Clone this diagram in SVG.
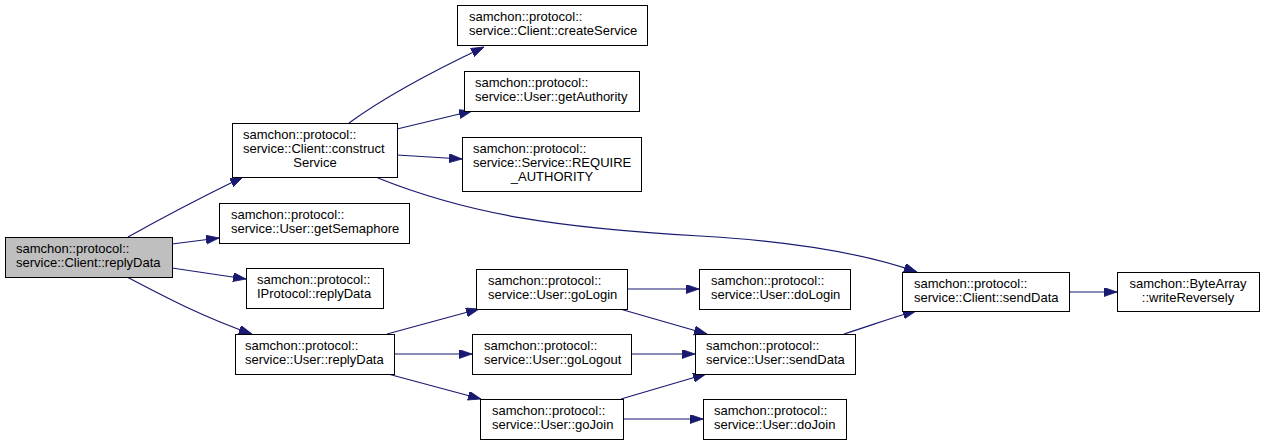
<svg xmlns="http://www.w3.org/2000/svg" width="1264" height="445" viewBox="0 0 1264 445">
<style>
.n rect{fill:#ffffff;stroke:#000000;stroke-width:1}
.n.root rect{fill:#bfbfbf}
.n text{font-family:"Liberation Sans",Arial,sans-serif;font-size:13px;fill:#000000}
.n text.c{text-anchor:middle}
#edges path{fill:none;stroke:#191970;stroke-width:1.2}
</style>
<defs>
<marker id="arr" markerUnits="userSpaceOnUse" markerWidth="14" markerHeight="10" refX="13" refY="4.5" orient="auto">
<path d="M0,0 L13,4.5 L0,9 z" fill="#191970" stroke="#191970" stroke-width="0.8"/>
</marker>
</defs>
<rect width="1264" height="445" fill="#ffffff"/>
<g id="edges">
<path marker-end="url(#arr)" d="M128,237 C160,219 200,198 243,177"/>
<path marker-end="url(#arr)" d="M172,244 L219,238"/>
<path marker-end="url(#arr)" d="M172,268 L246,279"/>
<path marker-end="url(#arr)" d="M127,277 C165,297 205,318 252,334"/>
<path marker-end="url(#arr)" d="M349,123 C375,104 410,82 484,47"/>
<path marker-end="url(#arr)" d="M397,129 L472,111"/>
<path marker-end="url(#arr)" d="M397,155 L462,159"/>
<path marker-end="url(#arr)" d="M378,178 C470,215 560,228 700,236 C790,241 860,252 917,272"/>
<path marker-end="url(#arr)" d="M387,334 L479,309"/>
<path marker-end="url(#arr)" d="M394,354 L472,354"/>
<path marker-end="url(#arr)" d="M388,374 L481,399"/>
<path marker-end="url(#arr)" d="M627,289 L699,289"/>
<path marker-end="url(#arr)" d="M620,309 L707,334"/>
<path marker-end="url(#arr)" d="M631,354 L695,354"/>
<path marker-end="url(#arr)" d="M621,399 L706,374"/>
<path marker-end="url(#arr)" d="M623,419 L703,419"/>
<path marker-end="url(#arr)" d="M844,334 C870,326 890,318 916,311"/>
<path marker-end="url(#arr)" d="M1069,292 L1117,292"/>
</g>
<g id="n_root" class="n root"><rect x="5.5" y="237.5" width="167" height="40"/><text x="16" y="253">samchon::protocol::</text><text x="16" y="267">service::Client::replyData</text></g>
<g id="n_constructService" class="n"><rect x="232.5" y="123.5" width="165" height="54"/><text x="243" y="139">samchon::protocol::</text><text x="243" y="153">service::Client::construct</text><text class="c" x="315" y="167">Service</text></g>
<g id="n_getSemaphore" class="n"><rect x="219.5" y="203.5" width="190" height="40"/><text x="231" y="219">samchon::protocol::</text><text x="231" y="233">service::User::getSemaphore</text></g>
<g id="n_iprotocol_replyData" class="n"><rect x="246.5" y="268.5" width="137" height="40"/><text x="257" y="284">samchon::protocol::</text><text x="257" y="298">IProtocol::replyData</text></g>
<g id="n_user_replyData" class="n"><rect x="235.5" y="334.5" width="159" height="40"/><text x="245" y="350">samchon::protocol::</text><text x="245" y="364">service::User::replyData</text></g>
<g id="n_createService" class="n"><rect x="457.5" y="5.5" width="190" height="40"/><text x="469" y="21">samchon::protocol::</text><text x="469" y="35">service::Client::createService</text></g>
<g id="n_getAuthority" class="n"><rect x="464.5" y="71.5" width="175" height="40"/><text x="475" y="87">samchon::protocol::</text><text x="475" y="101">service::User::getAuthority</text></g>
<g id="n_require_authority" class="n"><rect x="462.5" y="137.5" width="179" height="54"/><text x="473" y="153">samchon::protocol::</text><text x="473" y="167">service::Service::REQUIRE</text><text class="c" x="552" y="181">_AUTHORITY</text></g>
<g id="n_goLogin" class="n"><rect x="476.5" y="269.5" width="151" height="40"/><text x="488" y="285">samchon::protocol::</text><text x="488" y="299">service::User::goLogin</text></g>
<g id="n_goLogout" class="n"><rect x="472.5" y="334.5" width="159" height="40"/><text x="484" y="350">samchon::protocol::</text><text x="484" y="364">service::User::goLogout</text></g>
<g id="n_goJoin" class="n"><rect x="480.5" y="399.5" width="143" height="40"/><text x="492" y="415">samchon::protocol::</text><text x="492" y="429">service::User::goJoin</text></g>
<g id="n_doLogin" class="n"><rect x="699.5" y="269.5" width="151" height="40"/><text x="711" y="285">samchon::protocol::</text><text x="711" y="299">service::User::doLogin</text></g>
<g id="n_user_sendData" class="n"><rect x="695.5" y="334.5" width="160" height="40"/><text x="706" y="350">samchon::protocol::</text><text x="706" y="364">service::User::sendData</text></g>
<g id="n_doJoin" class="n"><rect x="703.5" y="399.5" width="143" height="40"/><text x="714" y="415">samchon::protocol::</text><text x="714" y="429">service::User::doJoin</text></g>
<g id="n_client_sendData" class="n"><rect x="902.5" y="272.5" width="167" height="39"/><text x="914" y="288">samchon::protocol::</text><text x="914" y="302">service::Client::sendData</text></g>
<g id="n_writeReversely" class="n"><rect x="1117.5" y="272.5" width="142" height="39"/><text class="c" x="1188" y="288">samchon::ByteArray</text><text class="c" x="1188" y="302">::writeReversely</text></g>
</svg>
